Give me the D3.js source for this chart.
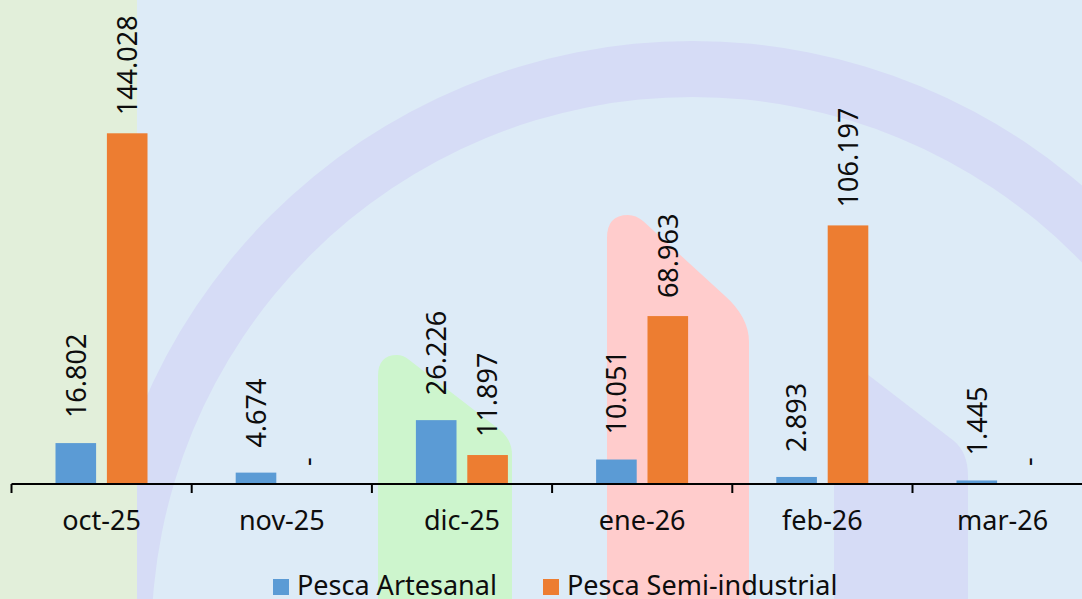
<!DOCTYPE html>
<html>
<head>
<meta charset="utf-8">
<script src="https://cdn.jsdelivr.net/npm/d3@7"></script>
<style>
body{margin:0;overflow:hidden;}
text{font-family:"Noto Sans",sans-serif;fill:#0d0d0d;}
</style>
</head>
<body>
<script>
var width = 1082;
var height = 599;

// datos (toneladas)
var categories = ["oct-25","nov-25","dic-25","ene-26","feb-26","mar-26"];
var seriesNames = ["Pesca Artesanal","Pesca Semi-industrial"];
var artesanal = [16802, 4674, 26226, 10051, 2893, 1445];
var semiIndustrial = [144028, 0, 11897, 68963, 106197, 0];
var yMax = 200000;

var colors = ["#5b9bd5","#ed7d31"];
var labelGap = [25, 18];

var es = d3.formatLocale({decimal:",", thousands:".", grouping:[3], currency:["",""]});
var fmt = es.format(",d");

var svg = d3.select("body")
.append("svg")
.attr("width",width)
.attr("height",height);

// fondo y formas decorativas
svg.append("rect")
.attr("width",width)
.attr("height",height)
.attr("fill","#ddebf7");

var ring = d3.arc()
.innerRadius(541)
.outerRadius(597)
.startAngle(0)
.endAngle(2*Math.PI);

svg.append("path")
.attr("transform","translate(692.5,638)")
.attr("d",ring())
.attr("fill","#d6dcf6");

svg.append("rect")
.attr("width",137)
.attr("height",height)
.attr("fill","#e2efda");

svg.append("path")
.attr("d","M378,599 V376 Q378,355 397,355 Q403,355 408,359 L500,430 Q512,440 512,455 V599 Z")
.attr("fill","#cdf5cd");

svg.append("path")
.attr("d","M607,599 V238 Q607,215 628,215 Q636,215 643,221 L724,295 Q749,317 749,342 V599 Z")
.attr("fill","#ffcccc");

svg.append("path")
.attr("d","M834,599 V392 Q834,369 855,369 Q861,369 867,374 L954,441 Q968,453 968,476 V599 Z")
.attr("fill","#d6dcf6");

// escalas
var x0 = d3.scaleBand()
.domain(categories)
.range([11.5, 11.5 + 180.2*categories.length]);

var x1 = d3.scaleBand()
.domain(seriesNames)
.range([44, 136])
.paddingInner(0.21);

var yScale = d3.scaleLinear()
.domain([0,yMax])
.range([484,-3]);

var rows = categories.map(function(c,i){
	return {cat:c, values:[artesanal[i], semiIndustrial[i]]};
});

var groups = svg.selectAll("g.cat")
.data(rows)
.enter()
.append("g")
.attr("class","cat")
.attr("transform",function(d){return "translate(" + x0(d.cat) + ",0)";});

groups.selectAll("rect")
.data(function(d){return d.values;})
.enter()
.append("rect")
.attr("x",function(d,i){return x1(seriesNames[i]);})
.attr("y",function(d){return yScale(d);})
.attr("width",x1.bandwidth())
.attr("height",function(d){return yScale(0) - yScale(d);})
.attr("fill",function(d,i){return colors[i];});

groups.selectAll("text.lbl")
.data(function(d){return d.values;})
.enter()
.append("text")
.attr("class","lbl")
.attr("transform",function(d,i){
	var cx = x1(seriesNames[i]) + x1.bandwidth()/2;
	return "translate(" + cx + "," + (yScale(d) - labelGap[i]) + ") rotate(-90)";
})
.attr("dy","0.36em")
.attr("font-size",27)
.text(function(d){return d === 0 ? "-" : fmt(d);});

// eje
var xAxis = d3.axisBottom(x0)
.tickSize(0)
.tickPadding(27);

var axisG = svg.append("g")
.attr("transform","translate(0,484)")
.call(xAxis);
axisG.select(".domain").remove();
axisG.selectAll("text")
.attr("font-size",27)
.attr("font-family","Noto Sans")
.attr("fill","#0d0d0d");

svg.append("line")
.attr("x1",x0.range()[0]).attr("x2",width)
.attr("y1",484).attr("y2",484)
.attr("stroke","#000").attr("stroke-width",2);

var bounds = categories.map(function(c){return x0(c);});
svg.selectAll("line.tick")
.data(bounds)
.enter()
.append("line")
.attr("class","tick")
.attr("x1",function(d){return d;}).attr("x2",function(d){return d;})
.attr("y1",484).attr("y2",493)
.attr("stroke","#000").attr("stroke-width",2);

// leyenda
var legendX = [273, 543];
var legend = svg.selectAll("g.legend")
.data(seriesNames)
.enter()
.append("g")
.attr("class","legend")
.attr("transform",function(d,i){return "translate(" + legendX[i] + ",579)";});

legend.append("rect")
.attr("width",16)
.attr("height",16)
.attr("fill",function(d,i){return colors[i];});

legend.append("text")
.attr("x",24)
.attr("y",16)
.attr("font-size",27)
.text(function(d){return d;});
</script>
</body>
</html>
